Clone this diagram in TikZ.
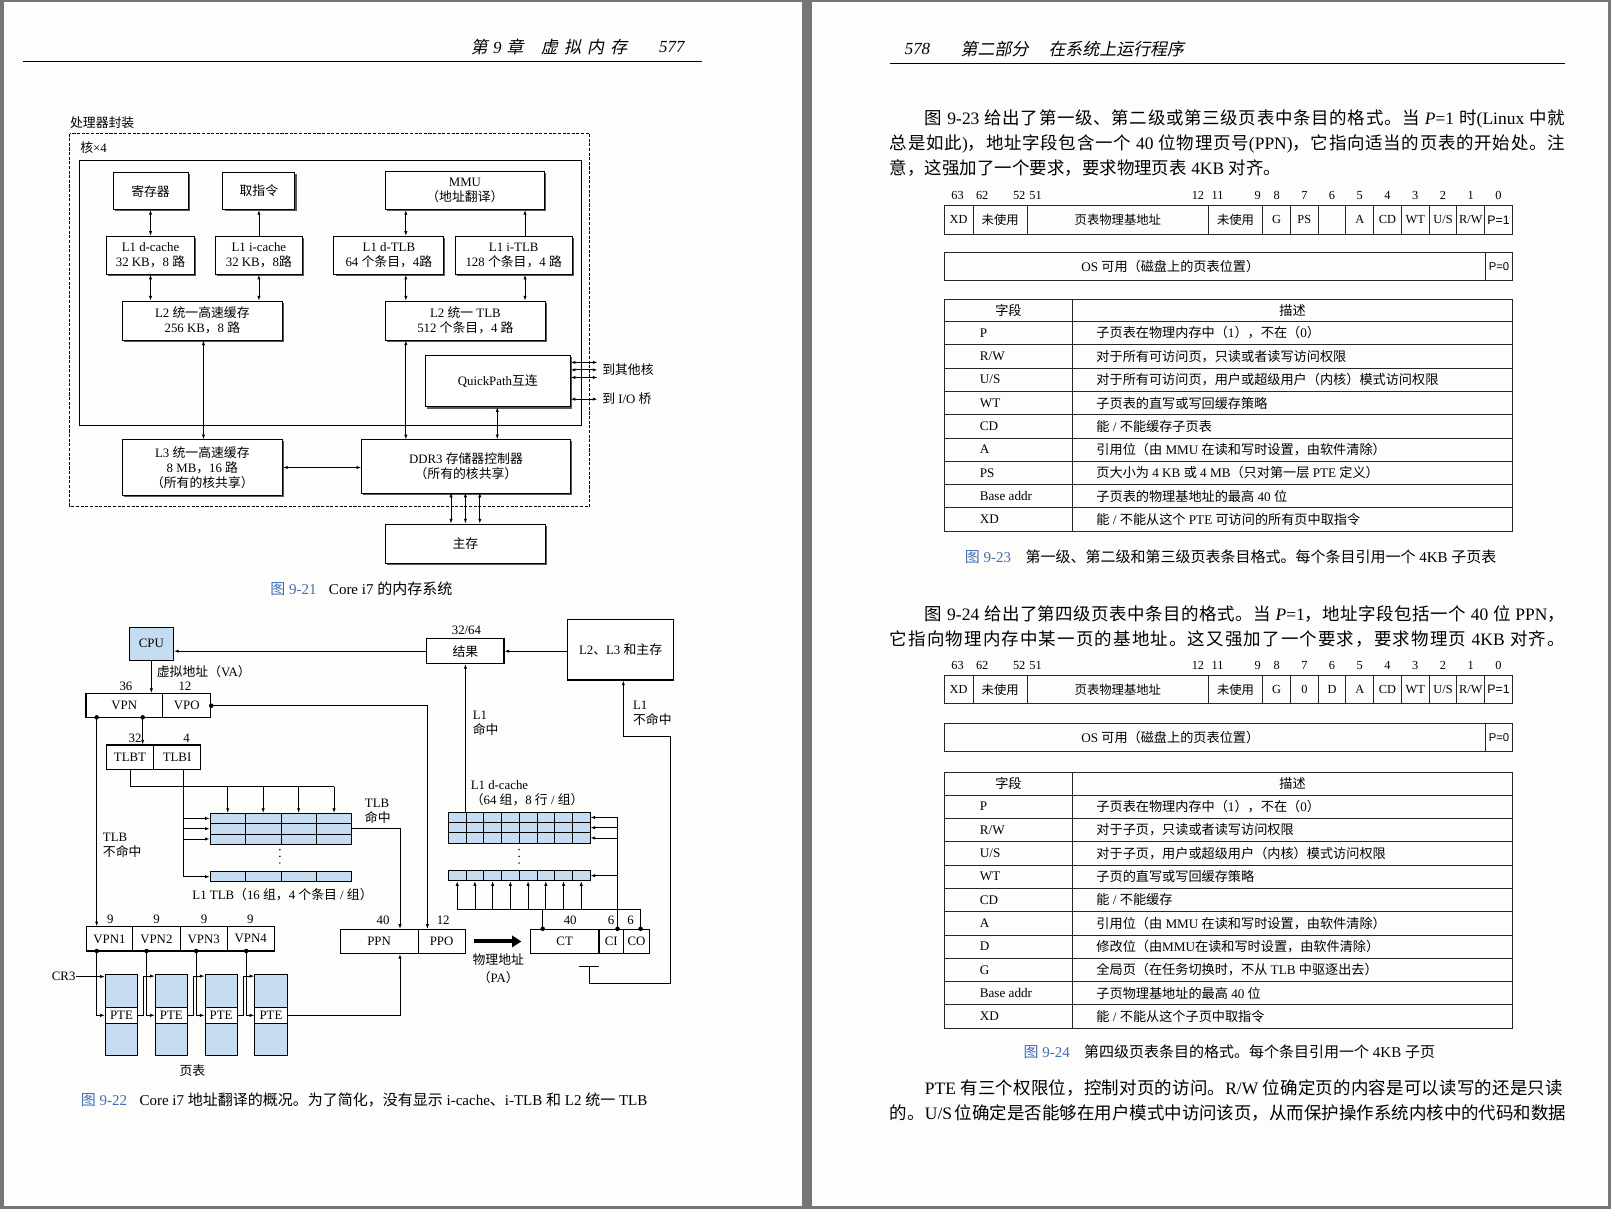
\documentclass[tikz,border=0pt]{standalone}
\usepackage{fontspec}
\usepackage{tikz}
\usetikzlibrary{arrows.meta,shadows}
\setmainfont{Liberation Serif}
\newfontfamily\cjkfont{Noto Sans CJK SC}
\newfontfamily\cjkslant[FakeSlant=0.2]{Noto Sans CJK SC}
\newfontfamily\sanstab{Liberation Sans}
\definecolor{capblue}{RGB}{66,108,182}
\definecolor{cellblue}{RGB}{198,221,241}
\definecolor{scanframe}{RGB}{118,118,118}
\definecolor{paper}{RGB}{253,253,251}

% every run of CJK characters is set in the CJK font
\XeTeXinterchartokenstate=1
\newXeTeXintercharclass\cjkclass
\newcount\cjkcode
\def\cjksel{\cjkfont}
\cjkcode="3000
\loop\XeTeXcharclass\cjkcode=\cjkclass
  \ifnum\cjkcode<"9FFF \advance\cjkcode by 1 \repeat
\cjkcode="FF00
\loop\XeTeXcharclass\cjkcode=\cjkclass
  \ifnum\cjkcode<"FFEF \advance\cjkcode by 1 \repeat
\XeTeXinterchartoks 0 \cjkclass={\begingroup\cjksel}
\XeTeXinterchartoks 4095 \cjkclass={\begingroup\cjksel}
\XeTeXinterchartoks \cjkclass 0={\endgroup}
\XeTeXinterchartoks \cjkclass 4095={\endgroup}
\XeTeXinterchartoks \cjkclass \cjkclass={\hskip0pt plus .12em\relax}

\newcommand{\figfont}{\fontsize{12.5}{14.5}\selectfont}
\newcommand{\tabfont}{\fontsize{12.8}{15}\selectfont}
\newcommand{\capfont}{\fontsize{14.6}{16}\selectfont}
\newcommand{\bodyfont}{\fontsize{17}{22}\selectfont}
\newcommand{\headfont}{\fontsize{16.5}{18}\selectfont\itshape\let\cjksel\cjkslant}

\tikzset{
  hwbox/.style={draw, line width=0.9pt, fill=white, inner sep=1pt, align=center, font=\figfont,
    drop shadow={shadow xshift=1.6pt, shadow yshift=-1.6pt, fill=black!65, opacity=1}},
  field/.style={draw, line width=1.1pt, fill=white, inner sep=0pt, minimum height=23.5pt, font=\figfont},
  cell/.style={draw, line width=0.7pt, fill=cellblue, inner sep=0pt, minimum height=10pt},
  lbl/.style={inner sep=0pt, font=\figfont, align=left},
  wire/.style={line width=0.8pt},
  tabline/.style={line width=0.9pt, draw=black!85},
  tabtxt/.style={inner sep=0pt, font=\tabfont},
  bitnum/.style={inner sep=0pt, font=\fontsize{12}{13}\selectfont},
  body/.style={inner sep=0pt, anchor=west, font=\bodyfont},
  head/.style={inner sep=0pt, font=\headfont},
  figcap/.style={inner sep=0pt, anchor=west, font=\capfont},
}

% one justified line of the running text
\newcommand{\bodyline}[4]{\node[body] at (#1,#2) {\makebox[#3pt][s]{#4}};}

% bit layout of a page table entry
\newcommand{\fmtrow}[2]{
  \foreach \l/\r/\t in {#2} {
    \draw[tabline] (\l,#1) rectangle (\r,{#1+28});
    \node[tabtxt, font=\fontsize{12}{13}\selectfont] at ({(\l+\r)/2},{#1+14}) {\t};
  }
}

% field / description table
\newcommand{\desctable}[4]{
  \pgfmathsetmacro\tbot{#1+21.8+22.7*#2}
  \draw[tabline] (919,#1) rectangle (1472,\tbot);
  \draw[tabline] (#3,#1) -- (#3,\tbot);
  \node[tabtxt] at ({(919+#3)/2},{#1+10.9}) {字段};
  \node[tabtxt] at ({(#3+1472)/2},{#1+10.9}) {描述};
  \foreach \f/\d [count=\k] in {#4} {
    \pgfmathsetmacro\ry{#1+21.8+22.7*(\k-1)}
    \draw[tabline] (919,\ry) -- (1472,\ry);
    \node[tabtxt, anchor=west] at (953.5,{\ry+11.35}) {\f};
    \node[tabtxt, anchor=west] at (1067,{\ry+11.35}) {\d};
  }
}

\begin{document}
\begin{tikzpicture}[x=1pt, y=-1pt, >={Latex[length=4.5pt,width=3.2pt]}]
  \useasboundingbox (0,0) rectangle (1568,1177);
  % the two scanned pages
  \fill[scanframe] (0,0) rectangle (1568,1177);
  \fill[paper] (4,2) rectangle (781,1174);
  \fill[paper] (790,2) rectangle (1565,1174);

  % page heads
  \node[head] (hdl) at (484,46) {第\hspace{5pt}9\hspace{5pt}章};
  \node[head] (hdm) at (568.5,46) {虚\hspace{6pt}拟\hspace{6pt}内\hspace{6pt}存};
  \node[head] (hdn) at (654,46) {577};
  \draw[line width=1.2pt] (22,60) -- (683,60);
  \node[head] (hdr) at (893,48) {578};
  \node[head] (hdp) at (968,48) {第二部分};
  \node[head] (hdt) at (1086.5,48) {在系统上运行程序};
  \draw[line width=1.2pt] (866,62) -- (1523,62);

  % ---------------- Figure 9-21 ----------------
  \node[lbl, anchor=west] (pkg) at (68,119) {处理器封装};
  \draw[wire, dash pattern=on 3pt off 1.5pt] (68,130) rectangle (574,493);
  \node[lbl, anchor=west] (core) at (78,144) {核×4};
  \draw[line width=0.9pt] (77,156) rectangle (566,414);

  \node[hwbox, minimum width=73pt, minimum height=36pt] (reg) at (146.5,186) {寄存器};
  \node[hwbox, minimum width=70pt, minimum height=36pt] (fetch) at (252,186) {取指令};
  \node[hwbox, minimum width=155pt, minimum height=37pt] (mmu) at (452.5,185.5) {MMU\\（地址翻译）};
  \node[hwbox, minimum width=85pt, minimum height=37pt] (l1d) at (146.5,248.5) {L1 d-cache\\32 KB，8 路};
  \node[hwbox, minimum width=84pt, minimum height=37pt] (l1i) at (252,248.5) {L1 i-cache\\32 KB，8路};
  \node[hwbox, minimum width=107pt, minimum height=37pt] (l1dt) at (378.5,248.5) {L1 d-TLB\\64 个条目，4路};
  \node[hwbox, minimum width=114pt, minimum height=37pt] (l1it) at (500,248.5) {L1 i-TLB\\128 个条目，4 路};
  \node[hwbox, minimum width=156pt, minimum height=38pt] (l2) at (197,312) {L2 统一高速缓存\\256 KB，8 路};
  \node[hwbox, minimum width=156pt, minimum height=38pt] (l2t) at (453,312) {L2 统一 TLB\\512 个条目，4 路};
  \node[hwbox, minimum width=141pt, minimum height=50pt] (qpi) at (484.5,371) {QuickPath互连};
  \node[hwbox, minimum width=156pt, minimum height=54pt] (l3) at (197,455) {L3 统一高速缓存\\8 MB，16 路\\（所有的核共享）};
  \node[hwbox, minimum width=203pt, minimum height=52pt] (ddr) at (453.5,454) {DDR3 存储器控制器\\（所有的核共享）};
  \node[hwbox, minimum width=156pt, minimum height=38pt] (mem) at (453,529) {主存};

  \coordinate (dtx) at (395,0);
  \coordinate (itx) at (511,0);
  \coordinate (l3x) at (198,0);
  \coordinate (qpx) at (484,0);
  \draw[wire,<->] (reg) -- (l1d);
  \draw[wire,->] (l1i) -- (fetch);
  \draw[wire,<->] (dtx |- l1dt.north) -- (dtx |- mmu.south);
  \draw[wire,->] (itx |- l1it.north) -- (itx |- mmu.south);
  \draw[wire,<->] (l1d.south) -- (l1d.south |- l2.north);
  \draw[wire,<->] (l1i.south) -- (l1i.south |- l2.north);
  \draw[wire,<->] (dtx |- l1dt.south) -- (dtx |- l2t.north);
  \draw[wire,<->] (itx |- l1it.south) -- (itx |- l2t.north);
  \draw[wire,<->] (l3x |- l2.south) -- (l3x |- l3.north);
  \draw[wire,<->] (dtx |- l2t.south) -- (dtx |- ddr.north);
  \draw[wire,<->] (qpx |- qpi.south) -- (qpx |- ddr.north);
  \draw[wire,<->] (l3.east) -- (l3.east -| ddr.west);
  \foreach \d in {-14,0,14}
    \draw[wire,<->] ([xshift=\d pt]mem.north) -- ++(0,-30);
  \foreach \d in {18.3,11,3.6,-17.5}
    \draw[wire,<->] ([yshift=\d pt]qpi.east) -- ++(26,0);
  \node[lbl, anchor=west] (toc) at (586,360) {到其他核};
  \node[lbl, anchor=west] (toio) at (586,388) {到 I/O 桥};

  \node[figcap] (cap21) at (263,573) {\textcolor{capblue}{图 9-21}\hspace{12pt}Core i7 的内存系统};

  % ---------------- Figure 9-22 ----------------
  \node[field, fill=cellblue, minimum width=43pt, minimum height=32pt] (cpu) at (147.3,626.5) {CPU};
  \node[field, minimum width=75pt, minimum height=24pt] (res) at (453,633.8) {结果};
  \node[field, minimum width=103pt, minimum height=59pt] (l23) at (604,632.4) {L2、L3 和主存};
  \node[lbl] (w3264) at (454,613.2) {32/64};
  \draw[wire,->] (res.west) -- (res.west -| cpu.east);
  \draw[wire,->] (res.east -| l23.west) -- (res.east);

  \node[lbl, anchor=west] (va) at (152.5,653.8) {虚拟地址（VA）};
  \node[field, minimum width=74.6pt] (vpn) at (121,686.9) {VPN};
  \node[field, minimum width=46.7pt] (vpo) at (181.7,686.9) {VPO};
  \node[lbl] at (122.6,667.7) {36};
  \node[lbl] at (180,667.7) {12};
  \draw[wire,->] (cpu.south) -- (cpu.south |- vpn.north);

  \node[field, minimum width=45.4pt, minimum height=23.7pt] (tlbt) at (126.5,737) {TLBT};
  \node[field, minimum width=46.1pt, minimum height=23.7pt] (tlbi) at (172.3,737) {TLBI};
  \node[lbl] at (131.4,718.6) {32};
  \node[lbl] at (181.7,718.6) {4};
  \coordinate (vmiss) at (94.1,698.2);
  \coordinate (vtag) at (138.9,698.2);
  \draw[wire,->] (vtag) -- (vtag |- tlbt.north);

  % L1 TLB
  \foreach \c in {0,...,3}
    \foreach \r/\yy in {0/796.6,1/806.6,2/816.6,3/853.3}
      \node[cell, minimum width=34.5pt] (tlb\r\c) at ({221.65+34.5*\c},\yy) {};
  \foreach \yy in {827,833.5,840}
    \fill (272.4,\yy) circle[radius=0.8pt];
  \coordinate (tbus) at (0,765.7);
  \draw[wire] (tlbt.south) |- (tlb03.north |- tbus);
  \foreach \c in {0,...,3}
    \draw[wire,->] (tlb0\c.north |- tbus) -- (tlb0\c.north);
  \coordinate (tidx) at ([xshift=6.1pt]tlbi.south);
  \draw[wire,->] (tidx) |- (tlb30.west);
  \foreach \r in {0,1,2}
    \draw[wire,->] (tidx |- tlb\r0.west) -- (tlb\r0.west);
  \node[lbl, anchor=west] at (355,790) {TLB\\命中};
  \node[lbl, anchor=west] at (100,823) {TLB\\不命中};
  \node[lbl] at (275,870.5) {L1 TLB（16 组，4 个条目 / 组）};

  % L1 d-cache
  \foreach \c in {0,...,7}
    \foreach \r/\yy in {0/795.6,1/805.6,2/815.6,3/852.3}
      \node[cell, minimum width=17.25pt] (dc\r\c) at ({445.0+17.25*\c},\yy) {};
  \foreach \yy in {827,833.5,840}
    \fill (505.2,\yy) circle[radius=0.8pt];
  \node[lbl, anchor=west] at (458,772) {L1 d-cache\\（64 组，8 行 / 组）};
  \node[lbl, anchor=west] at (460,703.7) {L1\\命中};
  \node[lbl, anchor=west] at (616,694) {L1\\不命中};
  \draw[wire,->] (res.south |- dc00.north) -- (res.south);

  % VPN1..VPN4
  \foreach \i/\xx/\w in {1/106.5/45,2/152.2/46.4,3/198.3/45.8,4/244/45.5}
    \node[field, minimum width=\w pt] (vpn\i) at (\xx,913.8) {VPN\i};
  \foreach \xx in {107.4,152.4,198.6,243.7}
    \node[lbl] at (\xx,894.8) {9};
  \draw[wire,->] (vmiss) -- (vmiss |- vpn1.north);
  \fill (vmiss) circle[radius=2.2pt];
  \fill (vtag) circle[radius=2.2pt];

  % PPN / PPO
  \node[field, minimum width=75.9pt] (ppn) at (369,916.3) {PPN};
  \node[field, minimum width=45.7pt] (ppo) at (429.8,916.3) {PPO};
  \node[lbl] at (372.8,896) {40};
  \node[lbl] at (431.4,896) {12};
  \coordinate (ppnx) at (389.3,0);
  \coordinate (ppox) at (416,0);
  \draw[wire,->] (vpo.east) -| (ppox |- ppo.north);
  \fill (vpo.east) circle[radius=2.2pt];
  \draw[wire,->] (tlb13.east) -| (ppnx |- ppn.north);

  % CT / CI / CO
  \node[field, minimum width=66.8pt] (ct) at (549.6,916.3) {CT};
  \node[field, minimum width=24pt] (ci) at (595,916.3) {CI};
  \node[field, minimum width=25pt] (co) at (619.5,916.3) {CO};
  \node[lbl] at (555,896) {40};
  \node[lbl] at (594.7,896) {6};
  \node[lbl] at (613.7,896) {6};
  \draw[line width=4pt, -{Triangle[length=9pt,width=11pt]}] ([xshift=8.3pt]ppo.east) -- ([xshift=-8.2pt]ct.west);
  \node[lbl] at (485,933.7) {物理地址};
  \node[lbl] at (485,951.3) {（PA）};

  \coordinate (ctdot) at ([xshift=-21.4pt]ct.north);
  \coordinate (cidot) at ([xshift=6pt]ci.north);
  \coordinate (codot) at ([xshift=4pt]co.north);
  \coordinate (tagbus) at (0,884.8);
  \draw[wire] (ctdot) -- (ctdot |- tagbus);
  \draw[wire] (dc30.south |- tagbus) -- (codot |- tagbus) -- (codot);
  \foreach \c in {0,...,7}
    \draw[wire,->] (dc3\c.south |- tagbus) -- (dc3\c.south);
  \draw[wire] (cidot) -- (cidot |- dc07.east);
  \foreach \r in {0,1,2,3}
    \draw[wire,->] (cidot |- dc\r7.east) -- (dc\r7.east);
  \foreach \p in {ctdot,cidot,codot}
    \fill (\p) circle[radius=2.2pt];

  % L1 miss goes on to L2, L3 and main memory
  \coordinate (cmp) at (573.6,940.9);
  \draw[line width=1pt] ([xshift=-9.7pt]cmp) -- ([xshift=9.7pt]cmp);
  \coordinate (missr) at (652.8,717);
  \coordinate (l23in) at ([xshift=2.7pt]l23.south);
  \draw[wire,->] (cmp) -- ++(0,16.1) -| (missr) -| (l23in);

  % page tables
  \foreach \i/\xx in {1/118.25,2/166.75,3/215.25,4/263.75} {
    \node[field, fill=cellblue, line width=0.9pt, minimum width=31.5pt, minimum height=78.6pt] (pt\i) at (\xx,987.6) {};
    \node[field, line width=0.9pt, minimum width=31.5pt, minimum height=15.5pt] (pte\i) at (\xx,988.25) {PTE};
  }
  \foreach \i/\xx in {1/94.2,2/142.6,3/190.9,4/239.6} {
    \coordinate (vd\i) at (\xx,925.6);
    \draw[wire,->] (vd\i) |- (pte\i.west);
    \fill (vd\i) circle[radius=2.2pt];
  }
  \node[lbl] (cr3) at (62,950.5) {CR3};
  \draw[wire,->] (cr3.east) -- (cr3.east -| pt1.west);
  \foreach \i/\j in {1/2,2/3,3/4}
    \draw[wire,->] (pte\i.east) -- ++(5.3,0) |- ([yshift=-2.2pt]pt\j.north west);
  \draw[wire,->] (pte4.east) -| (ppnx |- ppn.south);
  \node[lbl] at (187.3,1042) {页表};

  \node[figcap] (cap22) at (78.6,1071) {\textcolor{capblue}{图 9-22}\hspace{12pt}Core i7 地址翻译的概况。为了简化，没有显示 i-cache、i-TLB 和 L2 统一 TLB};

  % ---------------- right page ----------------
  \bodyline{900}{116}{623}{图 9-23 给出了第一级、第二级或第三级页表中条目的格式。当 \textit{P}=1 时(Linux 中就}
  \bodyline{866}{140}{657}{总是如此)，地址字段包含一个 40 位物理页号(PPN)，它指向适当的页表的开始处。注}
  \node[body] at (866,164) {意，这强加了一个要求，要求物理页表 4KB 对齐。};

  % Figure 9-23
  \foreach \xx/\n in {932/63,956/62,992/52,1008/51,1166/12,1185/11,1224/9,1242.5/8,1269.5/7,1296.5/6,1323.5/5,1350.5/4,1377.5/3,1404.5/2,1431.5/1,1458.5/0}
    \node[bitnum] at (\xx,190) {\n};
  \fmtrow{200}{919/947/XD,947/1000/未使用,1000/1176/页表物理基地址,1176/1229/未使用,1229/1256/G,1256/1283/PS,1283/1310/{},1310/1337/A,1337/1364/CD,1364/1391/WT,1391/1418/{U/S},1418/1445/{R/W},1445/1472/{\sanstab P=1}}
  \draw[tabline] (919,246) rectangle (1472,273);
  \draw[tabline] (1446,246) -- (1446,273);
  \node[tabtxt] at (1139,259.5) {OS 可用（磁盘上的页表位置）};
  \node[tabtxt, font=\fontsize{11}{12}\sanstab] at (1459,259.5) {P=0};
  \desctable{291}{9}{1044}{P/{子页表在物理内存中（1），不在（0）},
    {R/W}/{对于所有可访问页，只读或者读写访问权限},
    {U/S}/{对于所有可访问页，用户或超级用户（内核）模式访问权限},
    WT/{子页表的直写或写回缓存策略},
    CD/{能 / 不能缓存子页表},
    A/{引用位（由 MMU 在读和写时设置，由软件清除）},
    PS/{页大小为 4 KB 或 4 MB（只对第一层 PTE 定义）},
    {Base addr}/{子页表的物理基地址的最高 40 位},
    XD/{能 / 不能从这个 PTE 可访问的所有页中取指令}}
  \node[figcap] (cap23) at (939,541.8) {\textcolor{capblue}{图 9-23}\hspace{14pt}第一级、第二级和第三级页表条目格式。每个条目引用一个 4KB 子页表};

  \bodyline{900}{598}{623}{图 9-24 给出了第四级页表中条目的格式。当 \textit{P}=1，地址字段包括一个 40 位 PPN，}
  \bodyline{866}{622}{657}{它指向物理内存中某一页的基地址。这又强加了一个要求，要求物理页 4KB 对齐。}

  % Figure 9-24
  \foreach \xx/\n in {932/63,956/62,992/52,1008/51,1166/12,1185/11,1224/9,1242.5/8,1269.5/7,1296.5/6,1323.5/5,1350.5/4,1377.5/3,1404.5/2,1431.5/1,1458.5/0}
    \node[bitnum] at (\xx,648) {\n};
  \fmtrow{657}{919/947/XD,947/1000/未使用,1000/1176/页表物理基地址,1176/1229/未使用,1229/1256/G,1256/1283/0,1283/1310/D,1310/1337/A,1337/1364/CD,1364/1391/WT,1391/1418/{U/S},1418/1445/{R/W},1445/1472/{\sanstab P=1}}
  \draw[tabline] (919,704) rectangle (1472,731);
  \draw[tabline] (1446,704) -- (1446,731);
  \node[tabtxt] at (1139,717.5) {OS 可用（磁盘上的页表位置）};
  \node[tabtxt, font=\fontsize{11}{12}\sanstab] at (1459,717.5) {P=0};
  \desctable{752}{10}{1044}{P/{子页表在物理内存中（1），不在（0）},
    {R/W}/{对于子页，只读或者读写访问权限},
    {U/S}/{对于子页，用户或超级用户（内核）模式访问权限},
    WT/{子页的直写或写回缓存策略},
    CD/{能 / 不能缓存},
    A/{引用位（由 MMU 在读和写时设置，由软件清除）},
    D/{修改位（由MMU在读和写时设置，由软件清除）},
    G/{全局页（在任务切换时，不从 TLB 中驱逐出去）},
    {Base addr}/{子页物理基地址的最高 40 位},
    XD/{能 / 不能从这个子页中取指令}}
  \node[figcap] (cap24) at (996,1024) {\textcolor{capblue}{图 9-24}\hspace{14pt}第四级页表条目的格式。每个条目引用一个 4KB 子页};

  \bodyline{900}{1059}{621}{PTE 有三个权限位，控制对页的访问。R/W 位确定页的内容是可以读写的还是只读}
  \bodyline{866}{1083}{655}{的。U/S 位确定是否能够在用户模式中访问该页，从而保护操作系统内核中的代码和数据}
\end{tikzpicture}
\end{document}
